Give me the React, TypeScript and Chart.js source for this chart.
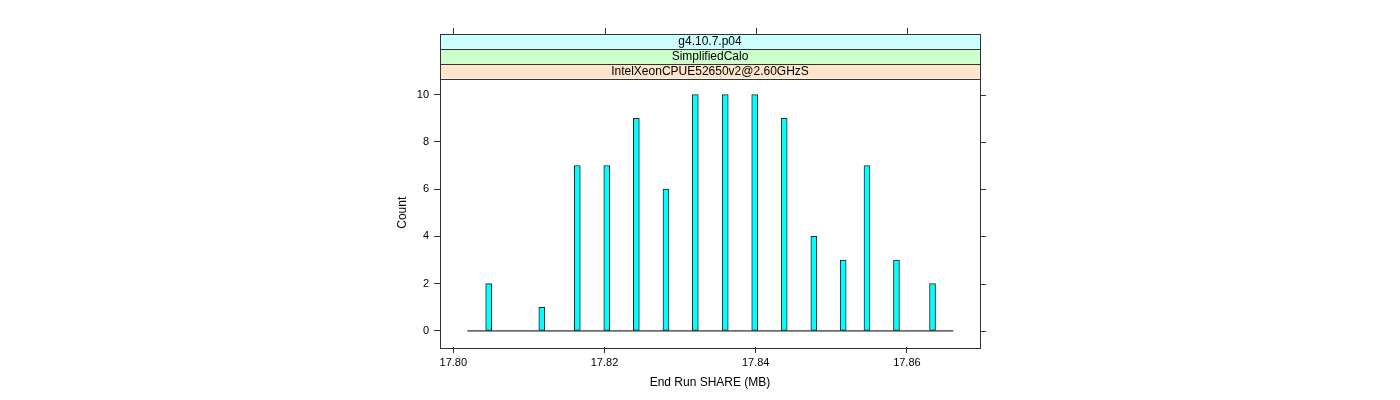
import React, { useEffect, useRef } from "react";
import { Chart, registerables } from "chart.js";

Chart.register(...registerables);

// ---- data ----
const binCenters = [
  17.80468, 17.81171, 17.8164, 17.8203, 17.82421, 17.82813, 17.83201, 17.83597,
  17.83987, 17.84377, 17.84769, 17.85157, 17.85472, 17.85862, 17.86339,
];
const counts = [2, 1, 7, 7, 9, 6, 10, 10, 10, 9, 4, 3, 7, 3, 2];
const baselineRange = [17.80185, 17.86614];
const xTicks = [17.8, 17.82, 17.84, 17.86];
const yTicks = [0, 2, 4, 6, 8, 10];
const xRange = [17.79824, 17.86967];
const yRange = [-0.68, 10.68];
const stripLabels = ["IntelXeonCPUE52650v2@2.60GHzS", "SimplifiedCalo", "g4.10.7.p04"];
const stripColors = ["#ffe5cc", "#ccffcc", "#ccffff"];
const xTitle = "End Run SHARE (MB)";
const yTitle = "Count";

const FONT = "'Liberation Sans', Arial, Helvetica, sans-serif";
const LINE = "#333333";

const panelPlugin = {
  id: "panelPlugin",
  afterDraw(chart: any) {
    const { ctx, chartArea, scales } = chart;
    const { left, right, top, bottom } = chartArea;
    const stripH = 14.8;
    ctx.save();
    // strips
    for (let i = 0; i < stripLabels.length; i++) {
      const y1 = top - (i + 1) * stripH;
      ctx.fillStyle = stripColors[i];
      ctx.fillRect(left, y1, right - left, stripH);
      ctx.strokeStyle = LINE;
      ctx.lineWidth = 1;
      ctx.strokeRect(Math.round(left) + 0.5, Math.round(y1) + 0.5, Math.round(right - left), Math.round(stripH));
      ctx.fillStyle = "#000";
      ctx.font = `12px ${FONT}`;
      ctx.textAlign = "center";
      ctx.textBaseline = "middle";
      ctx.fillText(stripLabels[i], (left + right) / 2, y1 + stripH / 2 + 0.5);
    }
    const stripTop = top - stripLabels.length * stripH;
    // panel border
    ctx.strokeStyle = LINE;
    ctx.lineWidth = 1;
    ctx.strokeRect(Math.round(left) + 0.5, Math.round(top) + 0.5, Math.round(right - left), Math.round(bottom - top));
    // top ticks
    ctx.beginPath();
    for (const t of xTicks) {
      const x = Math.round(scales.x.getPixelForValue(t)) + 0.5;
      ctx.moveTo(x, Math.round(stripTop));
      ctx.lineTo(x, Math.round(stripTop) - 6);
    }
    // right ticks
    for (const t of yTicks) {
      const y = Math.round(scales.y.getPixelForValue(t)) + 0.5;
      ctx.moveTo(Math.round(right), y);
      ctx.lineTo(Math.round(right) + 6, y);
    }
    ctx.stroke();
    ctx.restore();
  },
};

export default function App() {
  const ref = useRef<HTMLCanvasElement | null>(null);
  useEffect(() => {
    document.body.style.margin = "0";
    const canvas = ref.current!;
    const chart = new Chart(canvas, {
      type: "bar",
      data: {
        datasets: [
          {
            type: "line",
            data: baselineRange.map((x) => ({ x, y: 0 })),
            borderColor: "#000",
            borderWidth: 1,
            pointRadius: 0,
            order: 2,
          } as any,
          {
            type: "bar",
            data: binCenters.map((x, i) => ({ x, y: counts[i] })),
            backgroundColor: "#00ffff",
            borderColor: "#222",
            borderWidth: 1,
            borderSkipped: false,
            barThickness: 6,
            order: 1,
          } as any,
        ],
      },
      options: {
        responsive: false,
        animation: false,
        devicePixelRatio: 1,
        layout: { padding: { left: 395, right: 420, top: 78.5, bottom: 10 } },
        plugins: { legend: { display: false }, tooltip: { enabled: false } },
        scales: {
          x: {
            type: "linear",
            min: xRange[0],
            max: xRange[1],
            offset: false,
            afterBuildTicks: (s: any) => {
              s.ticks = xTicks.map((v) => ({ value: v }));
            },
            afterFit: (s: any) => {
              s.height = 43;
            },
            ticks: {
              callback: (v: any) => Number(v).toFixed(2),
              font: { family: FONT, size: 11 },
              color: "#000",
              padding: 3,
              maxRotation: 0,
              autoSkip: false,
            },
            grid: { offset: false, drawOnChartArea: false, drawTicks: true, tickLength: 6, color: LINE },
            border: { display: false },
            title: {
              display: true,
              text: xTitle,
              font: { family: FONT, size: 12 },
              color: "#000",
              padding: 0,
            },
          },
          y: {
            type: "linear",
            min: yRange[0],
            max: yRange[1],
            afterBuildTicks: (s: any) => {
              s.ticks = yTicks.map((v) => ({ value: v }));
            },
            afterFit: (s: any) => {
              s.width = 45;
            },
            ticks: {
              font: { family: FONT, size: 11 },
              color: "#000",
              padding: 5,
            },
            grid: { offset: false, drawOnChartArea: false, drawTicks: true, tickLength: 6, color: LINE },
            border: { display: false },
            title: {
              display: true,
              text: yTitle,
              font: { family: FONT, size: 12 },
              color: "#000",
              padding: 0,
            },
          },
        },
      },
      plugins: [panelPlugin],
    } as any);
    return () => chart.destroy();
  }, []);
  return (
    <div style={{ position: "absolute", left: 0, top: 0, width: 1400, height: 400 }}>
      <canvas ref={ref} width={1400} height={400} style={{ width: 1400, height: 400 }} />
    </div>
  );
}
